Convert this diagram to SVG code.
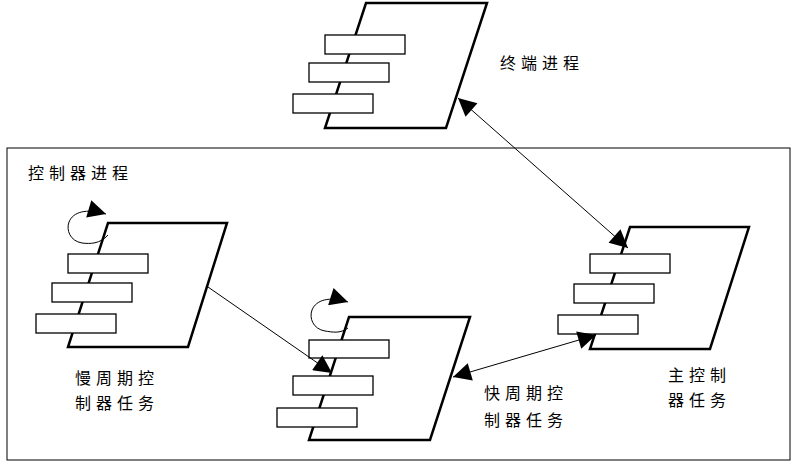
<svg xmlns="http://www.w3.org/2000/svg" width="794" height="464" viewBox="0 0 794 464">
<style>
.p{fill:#fff;stroke:#000;stroke-width:2.5}
.r{fill:#fff;stroke:#000;stroke-width:1.3}
.l{fill:none;stroke:#000;stroke-width:1}
text{font-family:"Noto Sans CJK SC",sans-serif;font-size:16px;letter-spacing:5px;fill:#000}
</style>
<defs>
<marker id="a" viewBox="0 0 10 10" refX="10" refY="5" markerWidth="22" markerHeight="18" markerUnits="userSpaceOnUse" orient="auto-start-reverse"><path d="M0,0L10,5L0,10Z"/></marker>
</defs>
<rect x="7" y="148" width="783" height="312" fill="none" stroke="#000" stroke-width="1"/>
<g id="terminal">
<polygon class="p" points="366,3 487,3 446,128 325,128"/>
<rect class="r" x="325" y="35" width="80" height="19"/>
<rect class="r" x="309" y="63" width="80" height="19"/>
<rect class="r" x="293" y="94" width="80" height="19"/>
<text x="500" y="69">终端进程</text>
</g>
<text x="28" y="179">控制器进程</text>
<g id="slow">
<polygon class="p" points="108,223 227,223 188,347 68,347"/>
<rect class="r" x="68" y="254" width="80" height="19"/>
<rect class="r" x="52" y="283" width="80" height="19"/>
<rect class="r" x="36" y="314" width="80" height="19"/>
<path class="l" d="M108,235 C100,244 90,244 82,243 C70,241 66,230 69,222 C73,212 86,208 106,214" marker-end="url(#a)"/>
<text x="75" y="384">慢周期控</text>
<text x="75" y="409">制器任务</text>
</g>
<g id="fast">
<polygon class="p" points="349,317 470,317 430,440 309,440"/>
<rect class="r" x="309" y="340" width="80" height="18"/>
<rect class="r" x="293" y="376" width="80" height="19"/>
<rect class="r" x="277" y="408" width="80" height="19"/>
<path class="l" d="M348,328 C340,334 332,332 325,331 C313,329 309,318 312,310 C316,300 329,296 348,302" marker-end="url(#a)"/>
<text x="484" y="399">快周期控</text>
<text x="484" y="426">制器任务</text>
</g>
<g id="main">
<polygon class="p" points="630,227 749,227 710,349 590,349"/>
<rect class="r" x="590" y="254" width="80" height="19"/>
<rect class="r" x="574" y="284" width="80" height="19"/>
<rect class="r" x="558" y="315" width="80" height="19"/>
<text x="668" y="381">主控制</text>
<text x="668" y="406">器任务</text>
</g>
<g id="connectors">
<line class="l" x1="458" y1="98" x2="628" y2="248" marker-start="url(#a)" marker-end="url(#a)"/>
<line class="l" x1="208" y1="287" x2="332" y2="373" marker-end="url(#a)"/>
<line class="l" x1="453" y1="377" x2="596" y2="335" marker-start="url(#a)" marker-end="url(#a)"/>
</g>
</svg>
